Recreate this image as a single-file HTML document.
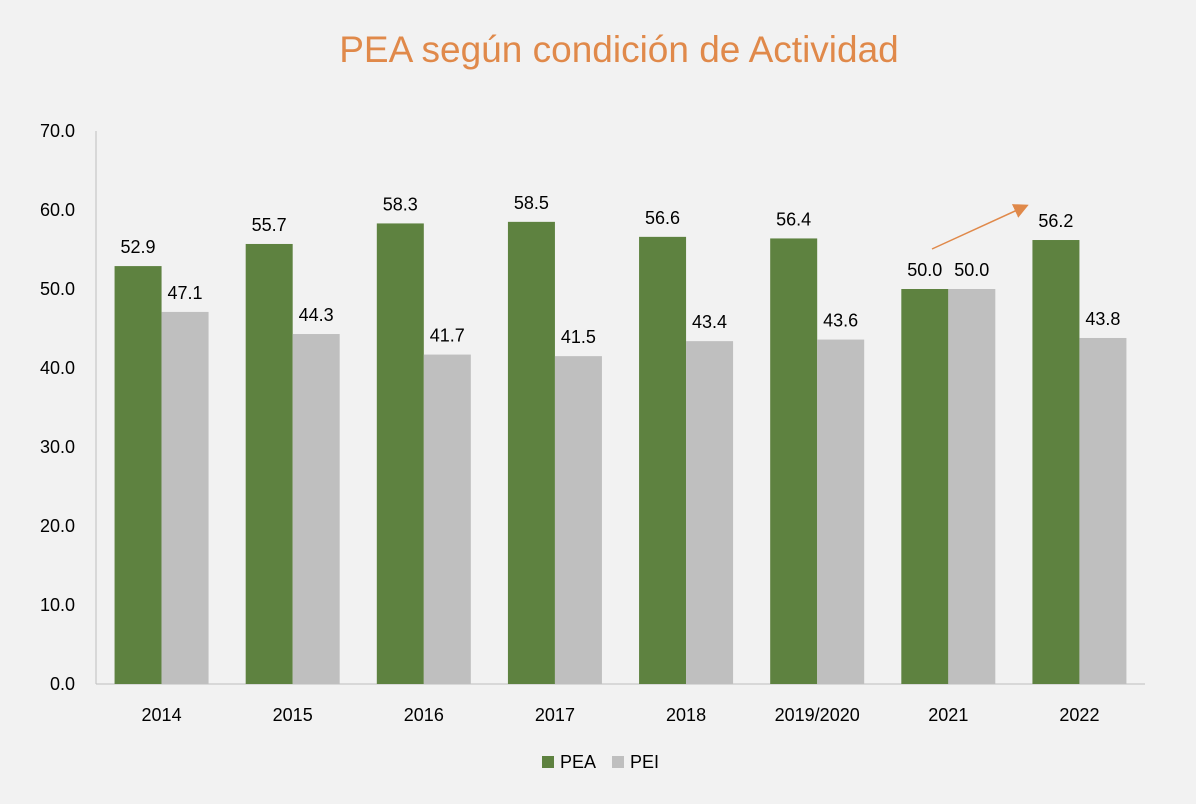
<!DOCTYPE html>
<html><head><meta charset="utf-8"><style>
body{margin:0;background:#f2f2f2;}
svg{display:block;font-family:"Liberation Sans",sans-serif;}
</style></head><body>
<svg id="c" width="1196" height="804" viewBox="0 0 1196 804">
<rect width="1196" height="804" fill="#f2f2f2"/>
<text x="619" y="62" text-anchor="middle" font-size="37" fill="#e0894a">PEA según condición de Actividad</text>
<g id="g"></g>
<defs><marker id="ah" markerWidth="10" markerHeight="10" refX="8" refY="5" orient="auto"><path d="M0,0 L10,5 L0,10 z" fill="#e0894a"/></marker></defs>
<line x1="932" y1="249" x2="1026" y2="206" stroke="#e0894a" stroke-width="1.5" marker-end="url(#ah)"/>
<g>
<rect x="542" y="756" width="12" height="12" fill="#5e8240"/>
<text x="560" y="768" font-size="18" fill="#000">PEA</text>
<rect x="612" y="756" width="12" height="12" fill="#bfbfbf"/>
<text x="630" y="768" font-size="18" fill="#000">PEI</text>
</g>
</svg>
<script>
const categories=["2014","2015","2016","2017","2018","2019/2020","2021","2022"];
const peaValues=[52.9,55.7,58.3,58.5,56.6,56.4,50.0,56.2];
const peiValues=[47.1,44.3,41.7,41.5,43.4,43.6,50.0,43.8];
const yTicks=[0,10,20,30,40,50,60,70];
const NS="http://www.w3.org/2000/svg";
const g=document.getElementById('g');
const x0=96,x1=1145,y0=684,yTop=131,yMax=70;
const band=(x1-x0)/categories.length,bw=47;
const y=v=>y0-(v/yMax)*(y0-yTop);
function mk(t,a,txt){const e=document.createElementNS(NS,t);for(const k in a)e.setAttribute(k,a[k]);if(txt!==undefined)e.textContent=txt;g.appendChild(e);return e;}
yTicks.forEach(t=>{const e=mk('text',{x:75,y:y(t)+6,'text-anchor':'end','font-size':18,fill:'#000'},t.toFixed(1));

});
const ax=mk('line',{x1:x0,y1:yTop,x2:x0,y2:y0,stroke:'#bfbfbf'});


const bx=mk('line',{x1:x0,y1:y0,x2:x1,y2:y0,stroke:'#bfbfbf'});


categories.forEach((c,i)=>{const cx=x0+band*(i+0.5);
const r1=mk('rect',{x:cx-bw,y:y(peaValues[i]),width:bw,height:y0-y(peaValues[i]),fill:'#5e8240'});


const r2=mk('rect',{x:cx,y:y(peiValues[i]),width:bw,height:y0-y(peiValues[i]),fill:'#bfbfbf'});


const l1=mk('text',{x:cx-bw/2,y:y(peaValues[i])-13,'text-anchor':'middle','font-size':18,fill:'#000'},peaValues[i].toFixed(1));


const l2=mk('text',{x:cx+bw/2,y:y(peiValues[i])-13,'text-anchor':'middle','font-size':18,fill:'#000'},peiValues[i].toFixed(1));


const xl=mk('text',{x:cx,y:721,'text-anchor':'middle','font-size':18,fill:'#000'},c);

});
</script>
</body></html>
